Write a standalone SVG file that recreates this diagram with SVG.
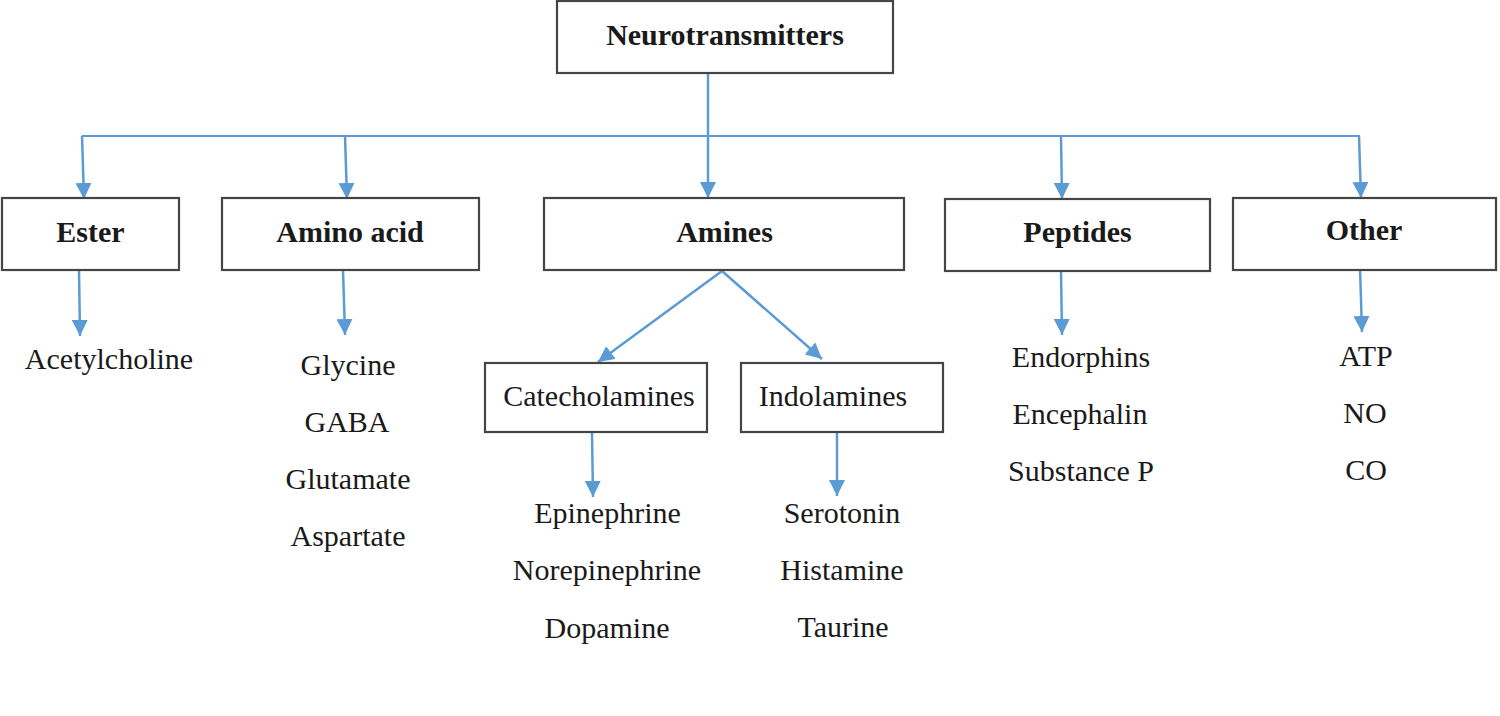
<svg xmlns="http://www.w3.org/2000/svg" width="1500" height="716" viewBox="0 0 1500 716">
<style>
.box{fill:#fff;stroke:#454545;stroke-width:2.2}
.t{font-family:"Liberation Serif","Times New Roman",serif;font-size:30px;fill:#1a1a1a;text-anchor:middle}
.b{font-weight:bold}
.c{fill:none;stroke:#5b9bd5;stroke-width:2.5}
.h{fill:none;stroke:#5b9bd5;stroke-width:1.8}
</style>
<defs>
<marker id="ah" viewBox="0 0 16 16" markerWidth="16" markerHeight="16" refX="16" refY="8" orient="auto" markerUnits="userSpaceOnUse">
<path d="M0,0 L16,8 L0,16 z" fill="#5b9bd5"/>
</marker>
</defs>
<rect width="1500" height="716" fill="#fff"/>
<g id="connectors">
<line class="h" x1="82" y1="136" x2="1360" y2="136"/>
<line class="c" x1="708" y1="73" x2="708" y2="198" marker-end="url(#ah)"/>
<line class="c" x1="82" y1="136" x2="84" y2="199" marker-end="url(#ah)"/>
<line class="c" x1="345" y1="136" x2="347" y2="199" marker-end="url(#ah)"/>
<line class="c" x1="1061" y1="136" x2="1062" y2="199" marker-end="url(#ah)"/>
<line class="c" x1="1359" y1="136" x2="1361" y2="198" marker-end="url(#ah)"/>
<line class="c" x1="79" y1="270" x2="80" y2="336" marker-end="url(#ah)"/>
<line class="c" x1="343" y1="270" x2="345" y2="335" marker-end="url(#ah)"/>
<line class="c" x1="722" y1="271" x2="598" y2="362" marker-end="url(#ah)"/>
<line class="c" x1="722" y1="271" x2="822" y2="359" marker-end="url(#ah)"/>
<line class="c" x1="592" y1="432" x2="593" y2="497" marker-end="url(#ah)"/>
<line class="c" x1="837" y1="432" x2="837" y2="496" marker-end="url(#ah)"/>
<line class="c" x1="1061" y1="271" x2="1062" y2="335" marker-end="url(#ah)"/>
<line class="c" x1="1360" y1="268" x2="1362" y2="332" marker-end="url(#ah)"/>
</g>
<g id="neurotransmitters">
<rect class="box" x="557" y="1" width="336" height="72"/>
<text class="t b" x="725" y="45">Neurotransmitters</text>
</g>
<g id="ester">
<rect class="box" x="2" y="198" width="177" height="72"/>
<text class="t b" x="90.5" y="242">Ester</text>
</g>
<g id="amino-acid">
<rect class="box" x="222" y="198" width="257" height="72"/>
<text class="t b" x="350" y="242">Amino acid</text>
</g>
<g id="amines">
<rect class="box" x="544" y="198" width="360" height="72"/>
<text class="t b" x="724.5" y="242">Amines</text>
</g>
<g id="peptides">
<rect class="box" x="945" y="199" width="265" height="72"/>
<text class="t b" x="1077.5" y="242">Peptides</text>
</g>
<g id="other">
<rect class="box" x="1233" y="198" width="263" height="72"/>
<text class="t b" x="1364" y="240">Other</text>
</g>
<g id="catecholamines">
<rect class="box" x="485" y="363" width="222" height="69"/>
<text class="t" x="599" y="406">Catecholamines</text>
</g>
<g id="indolamines">
<rect class="box" x="741" y="363" width="202" height="69"/>
<text class="t" x="833" y="406">Indolamines</text>
</g>
<g id="ester-items">
<text class="t" x="109" y="369">Acetylcholine</text>
</g>
<g id="amino-items">
<text class="t" x="348" y="375">Glycine</text>
<text class="t" x="347" y="432">GABA</text>
<text class="t" x="348" y="489">Glutamate</text>
<text class="t" x="348" y="546">Aspartate</text>
</g>
<g id="catecholamine-items">
<text class="t" x="607.5" y="523">Epinephrine</text>
<text class="t" x="607" y="580">Norepinephrine</text>
<text class="t" x="607" y="638">Dopamine</text>
</g>
<g id="indolamine-items">
<text class="t" x="842" y="523">Serotonin</text>
<text class="t" x="842" y="580">Histamine</text>
<text class="t" x="843" y="637">Taurine</text>
</g>
<g id="peptide-items">
<text class="t" x="1081" y="367">Endorphins</text>
<text class="t" x="1080" y="424">Encephalin</text>
<text class="t" x="1081" y="481">Substance P</text>
</g>
<g id="other-items">
<text class="t" x="1366" y="366">ATP</text>
<text class="t" x="1365" y="423">NO</text>
<text class="t" x="1366" y="480">CO</text>
</g>
</svg>
